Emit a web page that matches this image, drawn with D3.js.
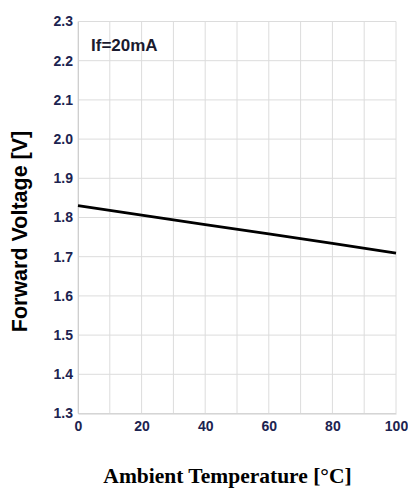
<!DOCTYPE html>
<html><head><meta charset="utf-8">
<script src="https://cdn.jsdelivr.net/npm/d3@7"></script>
<style>body{margin:0;background:#fff}svg{display:block}</style>
</head><body>
<svg id="c" width="408" height="489"></svg>
<script>
const temps = [0, 20, 40, 60, 80, 100];
const voltages = [1.83, 1.806, 1.782, 1.758, 1.734, 1.709];
const xTicks = [0, 20, 40, 60, 80, 100];
const yTicks = [1.3, 1.4, 1.5, 1.6, 1.7, 1.8, 1.9, 2.0, 2.1, 2.2, 2.3];
const xGrid = d3.range(0, 101, 10);

const svg = d3.select('#c');
const m = {l: 78, r: 396, t: 21.5, b: 413.5};
const x = d3.scaleLinear().domain([0, 100]).range([m.l, m.r]);
const y = d3.scaleLinear().domain([1.3, 2.3]).range([m.b, m.t]);

const g = svg.append('g');
g.selectAll('.vg').data(xGrid).join('line')
  .attr('x1', d => x(d)).attr('x2', d => x(d)).attr('y1', m.t).attr('y2', m.b)
  .attr('stroke', '#dcdcdc').attr('stroke-width', 1);
g.selectAll('.hg').data(yTicks).join('line')
  .attr('x1', m.l).attr('x2', m.r).attr('y1', d => y(d)).attr('y2', d => y(d))
  .attr('stroke', '#dcdcdc').attr('stroke-width', 1);

const tickColor = '#1c2350';
const yAxis = d3.axisLeft(y).tickValues(yTicks).tickFormat(d3.format('.1f')).tickSize(0).tickPadding(5);
const ya = svg.append('g').attr('transform', `translate(${m.l},0)`).call(yAxis);
ya.select('.domain').attr('stroke', '#cfcfcf');
ya.selectAll('text').attr('fill', tickColor).style('font-family', 'Liberation Sans, Arial, sans-serif')
  .style('font-weight', 'bold').style('font-size', '14px');

const xAxis = d3.axisBottom(x).tickValues(xTicks).tickSize(0).tickPadding(8);
const xa = svg.append('g').attr('transform', `translate(0,${m.b})`).call(xAxis);
xa.select('.domain').attr('stroke', '#cfcfcf');
xa.selectAll('text').attr('fill', tickColor).style('font-family', 'Liberation Sans, Arial, sans-serif')
  .style('font-weight', 'bold').style('font-size', '14px');

const line = d3.line().x((d, i) => x(temps[i])).y(d => y(d));
svg.append('path').datum(voltages).attr('d', line)
  .attr('fill', 'none').attr('stroke', '#000').attr('stroke-width', 2.8);

svg.append('text').attr('x', 91).attr('y', 51).text('If=20mA')
  .style('font-family', 'Liberation Sans, Arial, sans-serif').style('font-weight', 'bold')
  .style('font-size', '17px').attr('fill', '#1a1a2e');

svg.append('text').attr('transform', 'translate(27,231.5) rotate(-90)').attr('text-anchor', 'middle')
  .text('Forward Voltage [V]')
  .style('font-family', 'Liberation Sans, Arial, sans-serif').style('font-weight', 'bold')
  .style('font-size', '21.5px').attr('fill', '#000');

svg.append('text').attr('x', 227.5).attr('y', 483).attr('text-anchor', 'middle')
  .text('Ambient Temperature [°C]')
  .style('font-family', 'Liberation Serif, Times New Roman, serif').style('font-weight', 'bold')
  .style('font-size', '21.5px').attr('fill', '#000');
</script>
</body></html>
